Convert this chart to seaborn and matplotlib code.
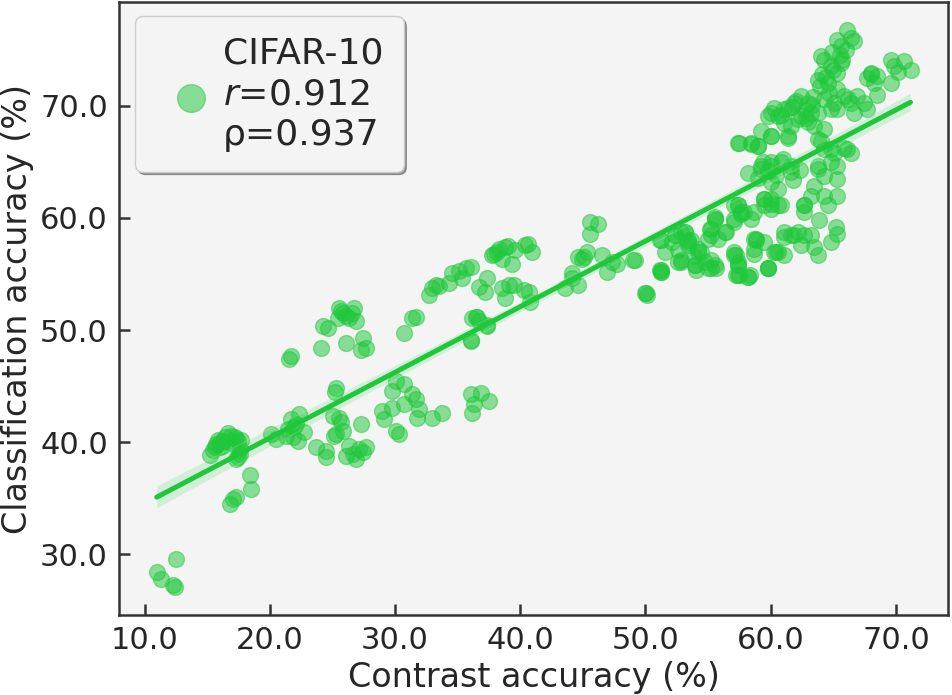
import matplotlib
matplotlib.use('Agg')
import matplotlib.pyplot as plt
import seaborn as sns
import pandas as pd
from matplotlib.ticker import FormatStrFormatter

# Contrast accuracy (%) of each model
contrast_acc = [
    10.97, 11.29, 12.48, 12.29, 12.43,
    16.80, 17.07, 17.33, 18.39, 18.53,
    15.21, 15.74, 16.00, 16.67, 17.20, 17.46, 17.60, 17.33, 16.00, 15.60, 17.07, 17.60, 16.27, 17.46,
    15.90, 16.40, 16.90, 17.30, 15.50, 16.60, 17.70, 16.20,
    20.12, 20.52, 21.44, 21.71, 22.37, 22.77, 22.24, 21.84, 21.31,
    21.57, 21.71, 21.90, 22.10,
    24.22, 24.10, 25.82, 25.55, 26.35, 26.75, 26.88, 26.09, 27.41, 27.68, 27.28, 24.62, 25.42,
    25.70, 26.10, 26.60,
    30.72, 31.38, 31.65,
    23.70, 24.50, 24.50, 25.02, 25.55, 25.69, 25.29, 25.15, 25.29, 25.24, 25.82, 26.09, 26.35,
    26.88, 27.14, 27.68, 26.61, 27.41, 27.28,
    29.00, 29.13, 29.79, 30.06, 30.72, 29.79, 30.06, 30.33, 30.72, 31.38, 31.65, 31.92, 31.78,
    32.98, 33.77,
    36.03, 36.83, 37.49, 36.29, 36.16,
    36.16, 36.69, 37.35, 36.03, 36.43, 36.03, 37.35, 36.56,
    32.98, 32.71, 33.25, 34.30, 34.57, 35.36, 35.63, 36.03, 36.69, 37.22, 37.35, 37.75, 38.15,
    38.55, 38.81, 39.34, 39.08, 38.55, 38.81, 40.40, 40.93, 40.67, 40.81, 40.27, 39.47,
    37.90, 38.30, 39.00, 39.60, 40.60, 33.50, 35.10,
    43.59, 44.12, 44.12, 44.65, 45.31, 45.58, 46.24, 45.58, 46.50, 46.90, 47.69, 49.02, 49.95,
    50.10, 51.27, 47.30, 45.10, 44.91, 44.65, 49.15, 50.08,
    51.27, 51.27, 52.34, 53.13, 53.66, 52.87, 53.93, 54.46, 54.99, 55.52, 55.25, 56.44, 55.25,
    54.73, 57.10, 57.38, 57.24, 58.18, 57.10, 57.64, 58.43, 59.50, 60.02, 58.83, 58.70, 59.76,
    60.56, 52.08, 52.60, 51.54, 53.90, 53.40,
    51.14, 51.14, 52.34, 53.13, 53.40, 52.60, 54.20, 54.06, 55.25, 54.99, 55.65, 55.52, 55.12,
    55.78, 57.38, 57.10, 57.90, 57.10, 57.38, 57.38, 58.18, 58.83, 58.70, 59.76, 60.29, 61.09,
    61.89, 62.68, 63.48, 59.50, 60.02, 60.82, 62.68,
    57.38, 58.43, 58.96, 60.02, 61.35, 59.23, 60.02, 60.82, 61.61, 60.02, 60.56, 59.50, 60.02,
    60.56, 57.38, 57.64, 58.70, 57.10, 63.74, 64.80, 65.86, 66.39, 63.74, 64.27, 65.33, 63.48,
    63.21, 64.27, 65.33, 62.68, 62.68, 63.87, 64.54, 65.20, 65.33, 64.80, 63.74, 62.42, 61.09,
    52.87, 53.40, 52.87, 53.93, 54.20, 55.52, 55.25, 56.31, 55.52, 51.27,
    58.70, 59.50, 60.43, 59.76, 61.09, 61.61, 63.21, 62.14, 57.24, 57.38, 58.31, 57.50,
    58.20, 59.00, 59.80, 60.40, 61.00, 61.80, 62.30, 59.40,
    66.12, 66.39, 66.66, 65.33, 65.59, 65.99, 64.00, 64.27, 64.80, 65.33, 65.73, 63.74, 64.54,
    64.67, 64.27, 65.33, 65.86, 65.07, 64.80, 63.74, 62.95, 62.42, 61.89, 61.09, 60.29, 60.02,
    60.56, 59.76, 61.09, 61.61, 62.42, 63.21, 63.48, 64.27, 61.35, 59.23, 58.43, 57.50, 58.96,
    60.02,
    61.40, 62.00, 62.70, 63.30, 63.90, 64.40, 65.00, 65.50, 64.10, 63.40, 62.20, 61.70, 64.90,
    65.60, 66.20, 63.00, 60.80, 62.80,
    67.98, 67.71, 68.51, 68.25, 69.57, 69.84, 70.64, 71.16, 69.57, 66.92, 67.45, 68.51, 66.39,
    66.66, 67.71, 65.33, 68.00, 70.20,
    64.00, 64.27, 65.07, 66.12, 63.74, 64.80, 65.33, 59.23, 60.02, 61.61,
]

# Classification accuracy (%) of each model
class_acc = [
    28.46, 27.80, 29.56, 27.28, 27.07,
    34.52, 34.96, 35.10, 37.12, 35.85,
    38.89, 39.84, 39.98, 40.78, 40.43, 40.13, 39.40, 38.51, 39.54, 39.54, 39.84, 38.95, 40.13, 38.66,
    40.20, 40.50, 40.60, 40.30, 39.30, 40.00, 40.20, 39.70,
    40.73, 40.28, 41.17, 42.06, 42.50, 40.87, 40.13, 40.43, 40.58,
    47.38, 47.67, 41.40, 41.60,
    50.33, 48.40, 51.51, 51.95, 51.07, 51.95, 50.77, 48.85, 49.29, 48.40, 48.26, 50.18, 51.07,
    51.70, 51.30, 51.50,
    49.73, 51.07, 51.21,
    39.54, 39.25, 38.66, 42.35, 42.20, 41.76, 40.73, 40.58, 44.86, 44.50, 41.02, 38.80, 39.69,
    38.51, 39.40, 39.54, 38.95, 39.10, 41.61,
    42.79, 42.06, 44.57, 45.45, 45.16, 43.09, 41.02, 40.73, 43.39, 44.27, 43.83, 43.00, 42.20,
    42.20, 42.64,
    44.27, 44.42, 43.68, 43.39, 42.64,
    51.07, 50.77, 50.33, 49.06, 51.21, 49.15, 50.48, 51.21,
    53.72, 53.14, 54.02, 54.17, 55.05, 54.61, 55.50, 55.65, 53.87, 53.43, 54.61, 56.68, 56.98,
    56.38, 57.42, 55.94, 54.02, 53.72, 52.84, 57.57, 56.98, 53.43, 52.54, 53.58, 54.02,
    56.80, 57.20, 57.50, 57.10, 57.70, 53.90, 55.30,
    53.72, 54.61, 55.05, 56.53, 56.98, 59.64, 59.49, 58.60, 56.68, 55.20, 55.94, 56.24, 53.28,
    53.10, 55.20, 56.10, 56.50, 56.38, 54.02, 56.24, 53.28,
    55.35, 58.01, 58.46, 58.75, 58.01, 56.24, 55.80, 56.98, 58.16, 59.93, 59.04, 58.75, 55.50,
    56.09, 56.98, 56.09, 54.91, 54.76, 61.12, 60.52, 59.93, 61.70, 60.81, 58.01, 57.27, 55.50,
    56.98, 57.86, 57.13, 56.98, 56.60, 57.57,
    58.01, 55.35, 58.46, 58.75, 58.01, 56.09, 56.98, 55.35, 56.24, 55.50, 55.50, 60.08, 59.04,
    58.16, 61.12, 59.64, 60.52, 56.68, 55.80, 54.91, 54.76, 58.16, 56.83, 55.50, 56.98, 58.31,
    58.46, 58.46, 57.42, 61.12, 61.70, 61.12, 61.12,
    66.72, 66.58, 66.43, 67.32, 67.17, 64.36, 64.66, 64.96, 64.07, 63.18, 62.59, 61.70, 61.26,
    61.12, 61.12, 60.37, 60.52, 59.93, 67.02, 66.13, 66.28, 65.84, 64.36, 63.78, 63.48, 62.89,
    62.00, 62.00, 62.00, 61.12, 60.52, 59.79, 61.12, 59.20, 58.60, 57.86, 56.68, 57.57, 58.75,
    58.75, 57.86, 56.09, 55.80, 57.27, 59.93, 58.46, 58.75, 55.80, 55.20,
    58.16, 57.86, 56.98, 55.50, 56.68, 58.46, 58.46, 58.75, 56.68, 55.80, 54.91, 54.90,
    64.00, 63.60, 64.20, 63.80, 65.30, 63.40, 64.30, 65.00,
    76.77, 76.04, 75.74, 75.89, 75.30, 75.00, 74.41, 74.11, 73.53, 72.93, 74.11, 72.34, 72.05,
    71.16, 70.57, 71.46, 70.87, 70.27, 69.68, 69.39, 70.27, 70.87, 70.27, 69.68, 69.83, 69.39,
    69.10, 69.10, 68.50, 68.21, 69.10, 69.39, 68.21, 67.91, 67.32, 67.77, 66.73, 66.73, 66.43,
    67.32,
    69.80, 70.40, 69.60, 70.10, 71.80, 72.60, 73.20, 74.50, 72.80, 70.80, 68.80, 69.90, 74.80,
    73.80, 70.60, 68.60, 69.20, 68.90,
    72.93, 72.49, 72.64, 72.05, 74.11, 73.53, 73.97, 73.23, 72.05, 70.87, 70.27, 71.01, 70.27,
    69.39, 69.68, 69.68, 72.80, 73.00,
    66.88, 66.13, 65.84, 66.13, 64.66, 64.96, 64.66, 64.66, 64.96, 64.66,
]

dataset = 'CIFAR-10'
pearson_r = 0.912
spearman_rho = 0.937
green = '#1ec83a'

df = pd.DataFrame({'contrast': contrast_acc, 'classification': class_acc})

sns.set_style('ticks')
plt.rcParams['font.family'] = ['DejaVu Sans']

fig, ax = plt.subplots(figsize=(9.52, 6.95), dpi=100)
fig.subplots_adjust(left=0.125, right=0.996, top=0.997, bottom=0.115)
ax.set_facecolor('#f4f4f4')

label = f'{dataset}\n$r$={pearson_r:.3f}\nρ={spearman_rho:.3f}'
sns.regplot(x='contrast', y='classification', data=df, ax=ax, color=green,
            label=label,
            scatter_kws={'s': 130, 'alpha': 0.5, 'linewidths': 1},
            line_kws={'linewidth': 3.6})

ax.set_xlabel('Contrast accuracy (%)', fontsize=24)
ax.set_ylabel('Classification accuracy (%)', fontsize=24)
ax.xaxis.set_major_formatter(FormatStrFormatter('%.1f'))
ax.yaxis.set_major_formatter(FormatStrFormatter('%.1f'))
ax.tick_params(direction='in', length=8, width=1.8, labelsize=22, pad=8, color='#333333')
for spine in ax.spines.values():
    spine.set_linewidth(1.8)
    spine.set_color('#333333')

leg = ax.legend(loc='upper left', fontsize=26, markerscale=1.75, shadow=True,
                fancybox=True, framealpha=1, borderpad=0.55, handletextpad=-0.12,
                bbox_to_anchor=(-0.002, 1.006))
leg.get_frame().set_facecolor('#f4f4f4')
leg.get_frame().set_edgecolor('#cccccc')
leg.get_texts()[0].set_linespacing(1.25)

plt.savefig('out.png', dpi=100)
